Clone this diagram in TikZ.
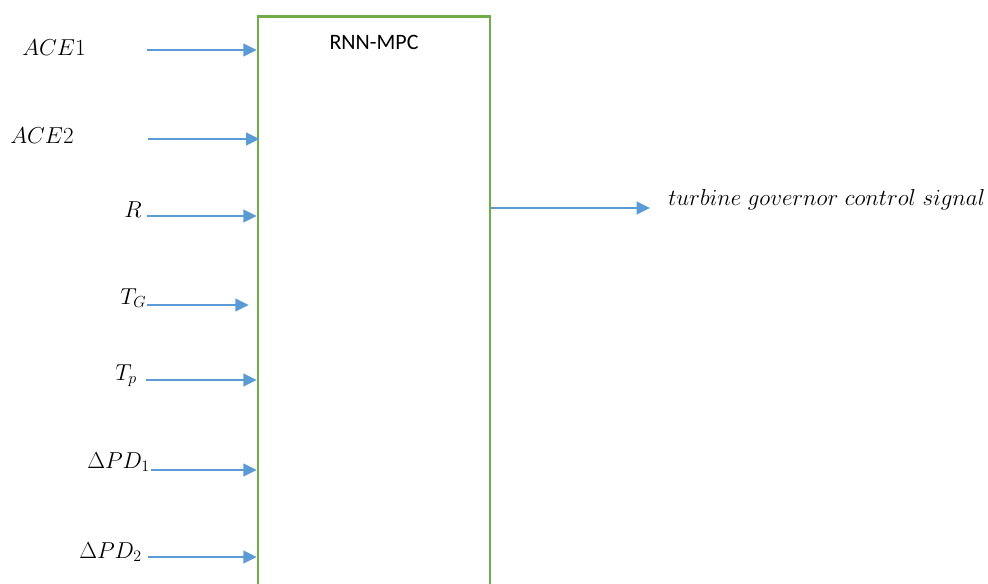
\documentclass[tikz,border=0pt]{standalone}
\usepackage{fontspec}
\usepackage{amsmath}
\usepackage{tikz}
\usetikzlibrary{arrows.meta}
\newfontfamily\calibrifont{Carlito}
\definecolor{boxgreen}{HTML}{70AD47}
\definecolor{sigblue}{HTML}{5B9BD5}

\begin{document}
\begin{tikzpicture}[x=0.75pt,y=-0.75pt]

\tikzset{mpc box/.style={
    draw=boxgreen, line width=1.9pt, minimum width=174pt,
    minimum height=470pt, inner sep=0pt
  },
  signal arrow/.style={
    draw=sigblue, line width=1.5pt,
    -{Triangle[length=10pt,width=9.5pt]}
  },
  signal label/.style={
    anchor=base west, inner sep=0pt,
    font=\fontsize{16.5}{20}\selectfont
  }
}
\useasboundingbox (0,0) rectangle (988,583);
\clip (0,0) rectangle (988,583);

\node[mpc box] (mpc) at (374,330) {};
\node[font=\calibrifont\fontsize{16.5}{19}\selectfont, anchor=base]
  (mpcname) at (374,49) {RNN-MPC};

\node[signal label] (ace1) at (22,55) {$ACE1$};
\node[signal label] (ace2) at (10,143) {$ACE2$};
\node[signal label] (r) at (124,217) {$R$};
\node[signal label] (tg) at (120,304) {$T_G$};
\node[signal label] (tp) at (115,380) {$T_p$};
\node[signal label] (dpd1) at (87,468) {$\Delta PD_1$};
\node[signal label] (dpd2) at (79,558) {$\Delta PD_2$};
\node[signal label] (out) at (668,205)
  {$turbine\ governor\ control\ signal$};

\coordinate (ace1 in) at (147,50);
\coordinate (ace2 in) at (148,139);
\coordinate (r in) at (147,216);
\coordinate (tg in) at (147,305);
\coordinate (tp in) at (146,380);
\coordinate (dpd1 in) at (151,470);
\coordinate (dpd2 in) at (148,557);
\coordinate (out end) at (650,208);

\draw[signal arrow] (ace1 in) -- (ace1 in -| mpc.west);
\draw[signal arrow] (ace2 in) -- ([xshift=2pt]ace2 in -| mpc.west);
\draw[signal arrow] (r in) -- (r in -| mpc.west);
\draw[signal arrow] (tg in) -- ([xshift=-6pt]tg in -| mpc.west);
\draw[signal arrow] (tp in) -- (tp in -| mpc.west);
\draw[signal arrow] (dpd1 in) -- (dpd1 in -| mpc.west);
\draw[signal arrow] (dpd2 in) -- (dpd2 in -| mpc.west);
\draw[signal arrow] (out end -| mpc.east) -- (out end);

\end{tikzpicture}
\end{document}
